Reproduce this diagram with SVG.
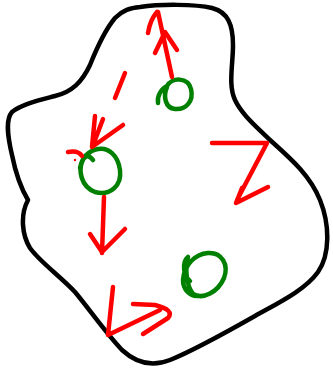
<svg xmlns="http://www.w3.org/2000/svg" width="333" height="371" viewBox="0 0 333 371">
<style>
.o{fill:none;stroke:#000;stroke-width:4.5;stroke-linecap:round;stroke-linejoin:round}
.r{fill:none;stroke:#ff0000;stroke-width:4.5;stroke-linecap:round;stroke-linejoin:round}
.g{fill:none;stroke:#008000;stroke-width:4.5;stroke-linecap:round;stroke-linejoin:round}
</style>
<rect width="333" height="371" fill="#fff"/>
<g id="outline">
<path class="o" d="M140,7 C160,4 195,4 212,8 C228,12 233,25 233,45 C233,65 228,85 235,100 C242,115 258,128 270,140 C290,158 310,175 320,200 C330,225 330,255 318,272 C305,290 280,302 255,316 C225,333 195,350 170,360 C150,368 135,362 122,350 C105,332 90,310 75,292 C60,276 40,262 30,248 C22,235 20,215 28,200 C22,190 16,175 12,155 C8,138 5,120 12,112 C22,104 40,100 55,96 C72,92 82,82 90,65 C98,45 105,30 115,18 C123,10 130,8 140,7 Z"/>
</g>
<g id="node-top">
<path class="g" d="M167,86 C172,77 188,77 191,89 C194,101 186,110 175,109 C165,108 163,96 167,87 M158,103 C157,96 161,89 167,86"/>
</g>
<g id="node-left">
<path class="g" d="M93,160 C88,154 84,156 82,162 C79,170 80,186 95,192 C110,196 122,186 120,170 C118,155 108,147 98,149 C88,151 82,158 80,168"/>
</g>
<g id="node-bottom">
<path class="g" d="M190,281 C183,276 182,262 188,257 C185,268 186,285 193,294 C203,300 218,292 224,278 C229,265 222,252 208,253 C195,254 184,265 183,280 C183,290 190,296 197,296"/>
</g>
<g id="connectors">
<path class="r" d="M172,77 L158,12 M148,33 Q150,20 157,12 M155,53 L165,32 L177,50"/>
<path class="r" d="M125,73 L115,98"/>
<path class="r" d="M95,116 L92,147 L123,125 M103,119 L95,140 M68,152 Q78,150 82,156"/>
<circle cx="75" cy="160" r="1.2" fill="#ff0000"/>
<path class="r" d="M104,197 L102,253 M90,234 L102,252 L125,229"/>
<path class="r" d="M212,143 L267,143 L237,200 M268,187 L236,203 L242,188"/>
<path class="r" d="M113,287 L108,335 L160,310 M133,304 L155,305 Q175,310 168,318 L143,334"/>
</g>
</svg>
